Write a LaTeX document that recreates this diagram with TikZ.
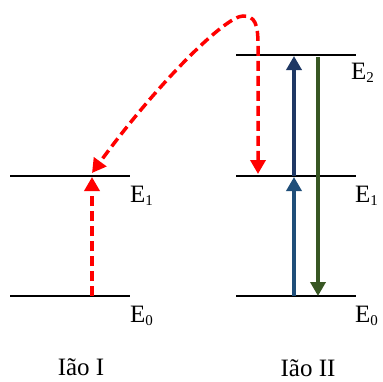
\documentclass[tikz,border=0pt]{standalone}
\usepackage{fontspec}
\setmainfont{Liberation Serif}
\usetikzlibrary{arrows.meta}
\definecolor{navy}{HTML}{1F3864}
\definecolor{steel}{HTML}{1F4E79}
\definecolor{olive}{HTML}{385723}
\newcommand{\Elev}[1]{E\raisebox{-2.5pt}{\fontsize{15}{15}\selectfont #1}}
\tikzset{
  level/.style={line width=2pt, black},
  redarr/.style={line width=3.5pt, red, dash pattern=on 10pt off 5pt, -{Triangle[width=15pt,length=14pt]}},
  solidarr/.style={line width=3.5pt, -{Triangle[width=15pt,length=14pt]}},
  lab/.style={anchor=base west, inner sep=0pt, font=\fontsize{25}{28}\selectfont},
  ion/.style={anchor=base, inner sep=0pt, text depth=0pt, font=\fontsize{25}{28}\selectfont}
}
\begin{document}
\begin{tikzpicture}[x=1pt,y=-1pt]
\useasboundingbox (0,0) rectangle (383,381);
% Ion I levels
\coordinate (a1l) at (10,176); \coordinate (a1r) at (130,176);
\coordinate (a0l) at (10,296); \coordinate (a0r) at (130,296);
\draw[level] (a1l) -- (a1r);
\draw[level] (a0l) -- (a0r);
% Ion II levels
\coordinate (b2l) at (236,55); \coordinate (b2r) at (356,55);
\coordinate (b1l) at (236,176); \coordinate (b1r) at (356,176);
\coordinate (b0l) at (236,296); \coordinate (b0r) at (356,296);
\draw[level] (b2l) -- (b2r);
\draw[level] (b1l) -- (b1r);
\draw[level] (b0l) -- (b0r);
% arrows
\coordinate (p0) at (92,296); \coordinate (p1) at (92,177);
\draw[redarr] (p0) -- (p1);
\coordinate (q0) at (294,176); \coordinate (q1) at (294,56);
\draw[solidarr, navy] (q0) -- (q1);
\coordinate (r0) at (294,296); \coordinate (r1) at (294,177);
\draw[solidarr, steel] (r0) -- (r1);
\coordinate (s0) at (318,57); \coordinate (s1) at (318,296);
\draw[solidarr, olive] (s0) -- (s1);
% transfer curve
\coordinate (t0) at (258,174); \coordinate (t1) at (258,45);
\coordinate (tp) at (243,16); \coordinate (t2) at (92,173);
\draw[redarr, {Triangle[width=15pt,length=14pt]}-{Triangle[width=15pt,length=14pt]}]
  (t0) -- (t1) .. controls (258,24) and (255,16) .. (tp)
  .. controls (226,16) and (160,80) .. (t2);
% labels
\node[lab] (le1) at (130,202.5) {\Elev{1}};
\node[lab] (le0) at (130,322.5) {\Elev{0}};
\node[lab] (re2) at (351,79.5) {\Elev{2}};
\node[lab] (re1) at (355,202.5) {\Elev{1}};
\node[lab] (re0) at (355,322.5) {\Elev{0}};
\node[ion] (ia) at (81,375) {Ião I};
\node[ion] (ib) at (308,376) {Ião II};
\end{tikzpicture}
\end{document}
